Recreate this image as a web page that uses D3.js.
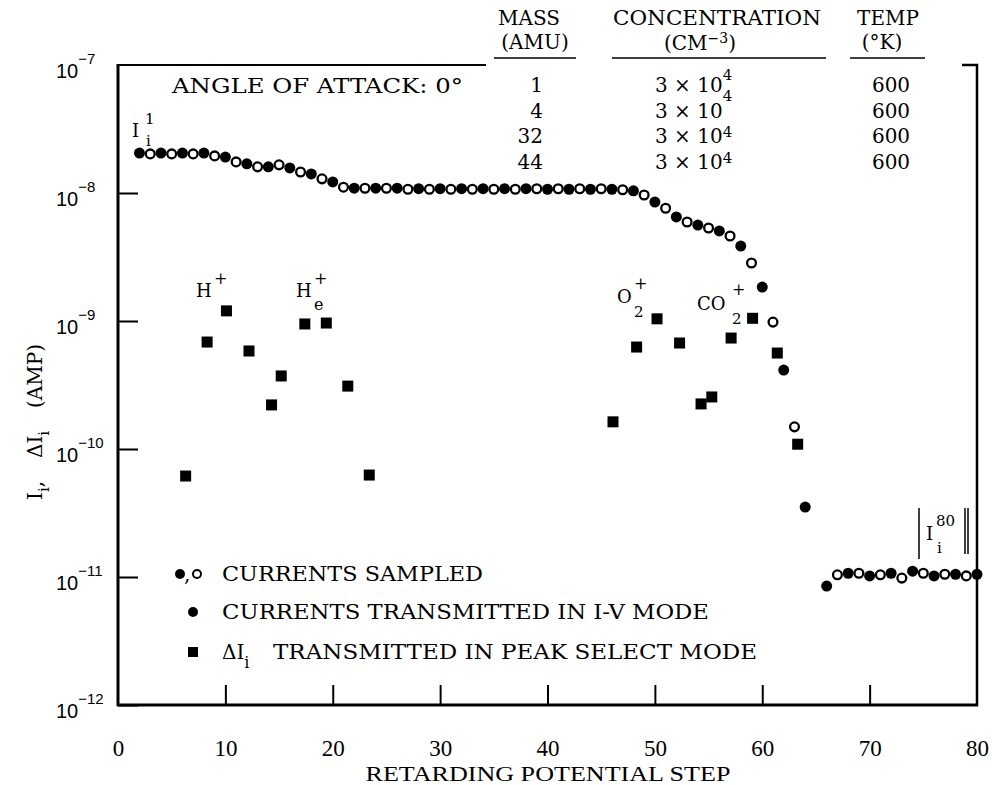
<!DOCTYPE html>
<html>
<head>
<meta charset="utf-8" />
<title>Retarding Potential Step</title>
<script src="https://d3js.org/d3.v7.min.js"></script>
<style>
  body { margin: 0; background: #fff; }
  svg { display: block; font-family: "DejaVu Serif", serif; }
</style>
</head>
<body>
<svg width="992" height="785"></svg>
<script>
    // Currents sampled (circles): step, value, kind (f = transmitted / filled, o = sampled only)
    var currentSteps = [2, 3, 4, 5, 6, 7, 8, 9, 10, 11, 12, 13, 14, 15, 16, 17, 18, 19, 20, 21,
        22, 23, 24, 25, 26, 27, 28, 29, 30, 31, 32, 33, 34, 35, 36, 37, 38, 39, 40, 41,
        42, 43, 44, 45, 46, 47, 48, 49, 50, 51, 52, 53, 54, 55, 56, 57, 58, 59, 60, 61,
        62, 63, 64, 66, 67, 68, 69, 70, 71, 72, 73, 74, 75, 76, 77, 78, 79, 80];
    var currentValues = [2.05e-8, 2.02e-8, 2.05e-8, 2.02e-8, 2.05e-8, 2.02e-8, 2.05e-8, 1.95e-8, 1.91e-8, 1.75e-8,
        1.69e-8, 1.60e-8, 1.60e-8, 1.66e-8, 1.57e-8, 1.46e-8, 1.41e-8, 1.29e-8, 1.22e-8, 1.11e-8,
        1.09e-8, 1.09e-8, 1.09e-8, 1.09e-8, 1.09e-8, 1.07e-8, 1.08e-8, 1.07e-8, 1.08e-8, 1.07e-8,
        1.08e-8, 1.07e-8, 1.08e-8, 1.07e-8, 1.08e-8, 1.07e-8, 1.08e-8, 1.08e-8, 1.07e-8, 1.08e-8,
        1.07e-8, 1.08e-8, 1.07e-8, 1.08e-8, 1.07e-8, 1.06e-8, 1.04e-8, 9.65e-9, 8.5e-9, 7.6e-9,
        6.5e-9, 5.93e-9, 5.62e-9, 5.33e-9, 5.05e-9, 4.61e-9, 3.85e-9, 2.84e-9, 1.84e-9, 9.8e-10,
        4.14e-10, 1.49e-10, 3.52e-11,
        8.5e-12, 1.04e-11, 1.07e-11, 1.07e-11, 1.02e-11, 1.04e-11, 1.07e-11, 9.8e-12, 1.11e-11, 1.07e-11,
        1.02e-11, 1.05e-11, 1.05e-11, 1.02e-11, 1.05e-11];
    var currentKinds = "fofofofofofofofofofofofofofofofofofofofofofofofofofofofofofofof" + "fofofofofofofof";

    // Delta I transmitted in peak select mode (squares)
    var peakSteps = [6.3, 8.3, 10.1, 12.2, 14.3, 15.2, 17.4, 19.4, 21.4, 23.4,
        46.1, 48.3, 50.2, 52.3, 54.3, 55.3, 57.1, 59.1, 61.4, 63.3];
    var peakValues = [6.15e-11, 6.85e-10, 1.20e-9, 5.83e-10, 2.21e-10, 3.72e-10, 9.48e-10, 9.64e-10, 3.10e-10, 6.26e-11,
        1.63e-10, 6.26e-10, 1.04e-9, 6.73e-10, 2.25e-10, 2.55e-10, 7.36e-10, 1.05e-9, 5.62e-10, 1.09e-10];

    // Ticks
    var xTicks = [0, 10, 20, 30, 40, 50, 60, 70, 80];
    var yExponents = [-12, -11, -10, -9, -8, -7];

    // Gas table
    var massAmu = ["1", "4", "32", "44"];
    var concMantissa = ["3", "3", "3", "3"];
    var concExponent = ["4", "4", "4", "4"];
    var tempK = ["600", "600", "600", "600"];

    var svg = d3.select("svg");

    var x = d3.scaleLinear().domain([0, 80]).range([118, 977]);
    var y = d3.scaleLog().domain([1e-12, 1e-7]).range([705, 65]);

    // frame (open at the top right, where the table sits)
    svg.append("path").attr("d", "M118,64V706").attr("stroke", "#000").attr("stroke-width", 3);
    svg.append("path").attr("d", "M117,65H486").attr("stroke", "#000").attr("stroke-width", 2);
    svg.append("path").attr("d", "M962,65H977V706").attr("stroke", "#000").attr("stroke-width", 2.5).attr("fill", "none");
    svg.append("path").attr("d", "M117,705H978").attr("stroke", "#000").attr("stroke-width", 3);

    // x axis
    var gx = svg.append("g")
        .attr("transform", "translate(0,705)")
        .call(d3.axisBottom(x).tickValues(xTicks).tickSize(-20).tickPadding(35).tickFormat(d3.format("d")));
    gx.select(".domain").remove();
    gx.selectAll(".tick line").attr("stroke-width", 2)
        .filter(function (d) { return d === 0 || d === 80; }).remove();
    gx.selectAll(".tick text")
        .attr("font-family", "Liberation Serif")
        .attr("font-size", 23)
        .attr("fill", "#000");

    // y axis
    var gy = svg.append("g")
        .attr("transform", "translate(118,0)")
        .call(d3.axisLeft(y).tickValues(yExponents.map(function (e) { return Math.pow(10, e); }))
            .tickSize(-20).tickFormat(function () { return ""; }));
    gy.select(".domain").remove();
    gy.selectAll(".tick line").attr("stroke-width", 2)
        .filter(function (d, i) { return i === yExponents.length - 1; }).remove();
    gy.selectAll(".tick").each(function (d, i) {
        var t = d3.select(this).append("text")
            .attr("x", -62).attr("y", 12)
            .attr("text-anchor", "start")
            .attr("fill", "#000")
            .attr("font-size", 20);
        t.append("tspan").text("10");
        t.append("tspan").attr("dy", -14).attr("font-size", 15).text("\u2212" + Math.abs(yExponents[i]));
    });

    // axis titles
    svg.append("text")
        .attr("x", 548).attr("y", 781)
        .attr("text-anchor", "middle")
        .attr("font-family", "Liberation Serif")
        .attr("font-size", 22)
        .attr("textLength", 365)
        .attr("lengthAdjust", "spacingAndGlyphs")
        .text("RETARDING POTENTIAL STEP");

    var ytg = svg.append("g").attr("transform", "translate(42,0) rotate(-90)").attr("font-size", 20);
    var yt1 = ytg.append("text").attr("x", -500).attr("y", 0);
    yt1.append("tspan").text("I");
    yt1.append("tspan").attr("dy", 7).attr("font-size", 15).text("i");
    yt1.append("tspan").attr("dy", -7).text(",");
    var yt2 = ytg.append("text").attr("x", -458).attr("y", 0);
    yt2.append("tspan").text("\u0394I");
    yt2.append("tspan").attr("dy", 7).attr("font-size", 15).text("i");
    ytg.append("text").attr("x", -408).attr("y", 0).text("(AMP)");

    // markers: squares
    svg.selectAll(".peak")
        .data(peakSteps)
        .enter()
        .append("rect")
        .attr("class", "peak")
        .attr("x", function (d) { return x(d) - 5.5; })
        .attr("y", function (d, i) { return y(peakValues[i]) - 5.5; })
        .attr("width", 11)
        .attr("height", 11)
        .attr("fill", "#000");

    // markers: circles
    svg.selectAll(".cur")
        .data(currentSteps)
        .enter()
        .append("circle")
        .attr("class", "cur")
        .attr("cx", function (d) { return x(d); })
        .attr("cy", function (d, i) { return y(currentValues[i]); })
        .attr("r", function (d, i) { return currentKinds[i] === "f" ? 5.5 : 4.4; })
        .attr("fill", function (d, i) { return currentKinds[i] === "f" ? "#000" : "#fff"; })
        .attr("stroke", "#000")
        .attr("stroke-width", function (d, i) { return currentKinds[i] === "f" ? 0 : 2.3; });

    // header table
    var hdr = svg.append("g").attr("font-size", 20).attr("text-anchor", "middle");
    hdr.append("text").attr("x", 529).attr("y", 25).text("MASS");
    hdr.append("text").attr("x", 535).attr("y", 49).text("(AMU)");
    hdr.append("text").attr("x", 717).attr("y", 25).attr("textLength", 208).attr("lengthAdjust", "spacingAndGlyphs").text("CONCENTRATION");
    var cm = hdr.append("text").attr("x", 700).attr("y", 50);
    cm.append("tspan").text("(CM");
    cm.append("tspan").attr("dy", -7).attr("font-size", 14).text("\u22123");
    cm.append("tspan").attr("dy", 7).text(")");
    hdr.append("text").attr("x", 888).attr("y", 25).text("TEMP");
    hdr.append("text").attr("x", 882).attr("y", 49).text("(\u00b0K)");
    hdr.append("path").attr("d", "M494,58H576M612,58H826M850,58H925").attr("stroke", "#000").attr("stroke-width", 1.5);

    svg.append("text").attr("x", 172).attr("y", 93).attr("font-size", 19.5)
        .attr("textLength", 291).attr("lengthAdjust", "spacingAndGlyphs")
        .text("ANGLE OF ATTACK:  0\u00b0");

    var supLift = [12, 17, 6, 6];
    massAmu.forEach(function (m, i) {
        var by = 92 + i * 25.5;
        hdr.append("text").attr("x", 543).attr("y", by).attr("text-anchor", "end").text(m);
        var c = hdr.append("text").attr("x", 655).attr("y", by).attr("text-anchor", "start");
        c.append("tspan").text(concMantissa[i] + " \u00d7 10");
        c.append("tspan").attr("dy", -supLift[i]).attr("font-size", 15).text(concExponent[i]);
        hdr.append("text").attr("x", 891).attr("y", by).text(tempK[i]);
    });

    // ion annotations
    var ann = svg.append("g");
    function put(tx, ty, s, size) {
        ann.append("text").attr("x", tx).attr("y", ty).attr("font-size", size || 18).text(s);
    }
    put(132, 137, "I");
    put(145, 124, "1", 15);
    put(146, 146, "i", 15);

    put(196, 297, "H");
    put(214, 284, "+", 16);

    put(296, 297, "H");
    put(314, 284, "+", 16);
    put(314, 310, "e", 16);

    put(617, 303, "O");
    put(634, 289, "+", 16);
    put(634, 317, "2", 15);

    put(697, 310, "CO");
    put(732, 295, "+", 16);
    put(732, 324, "2", 15);

    ann.append("path").attr("d", "M919,508V559M965,508V554M968,508V554").attr("stroke", "#000").attr("stroke-width", 1.5);
    put(926, 540, "I");
    put(936, 526, "80", 15);
    put(937, 553, "i", 15);

    // legend
    var lg = svg.append("g").attr("font-size", 20);
    lg.append("circle").attr("cx", 180).attr("cy", 574).attr("r", 5).attr("fill", "#000");
    lg.append("text").attr("x", 184).attr("y", 581).text(",");
    lg.append("circle").attr("cx", 197).attr("cy", 574).attr("r", 4).attr("fill", "#fff").attr("stroke", "#000").attr("stroke-width", 2);
    lg.append("text").attr("x", 222).attr("y", 581)
        .attr("textLength", 261).attr("lengthAdjust", "spacingAndGlyphs").text("CURRENTS SAMPLED");

    lg.append("circle").attr("cx", 193).attr("cy", 612).attr("r", 5).attr("fill", "#000");
    lg.append("text").attr("x", 222).attr("y", 619)
        .attr("textLength", 487).attr("lengthAdjust", "spacingAndGlyphs").text("CURRENTS TRANSMITTED IN I-V MODE");

    lg.append("rect").attr("x", 188).attr("y", 647).attr("width", 10).attr("height", 10).attr("fill", "#000");
    var l3 = lg.append("text").attr("x", 222).attr("y", 659);
    l3.append("tspan").text("\u0394I");
    l3.append("tspan").attr("dy", 9).attr("font-size", 16).text("i");
    lg.append("text").attr("x", 273).attr("y", 659)
        .attr("textLength", 484).attr("lengthAdjust", "spacingAndGlyphs").text("TRANSMITTED IN PEAK SELECT MODE");
</script>
</body>
</html>
